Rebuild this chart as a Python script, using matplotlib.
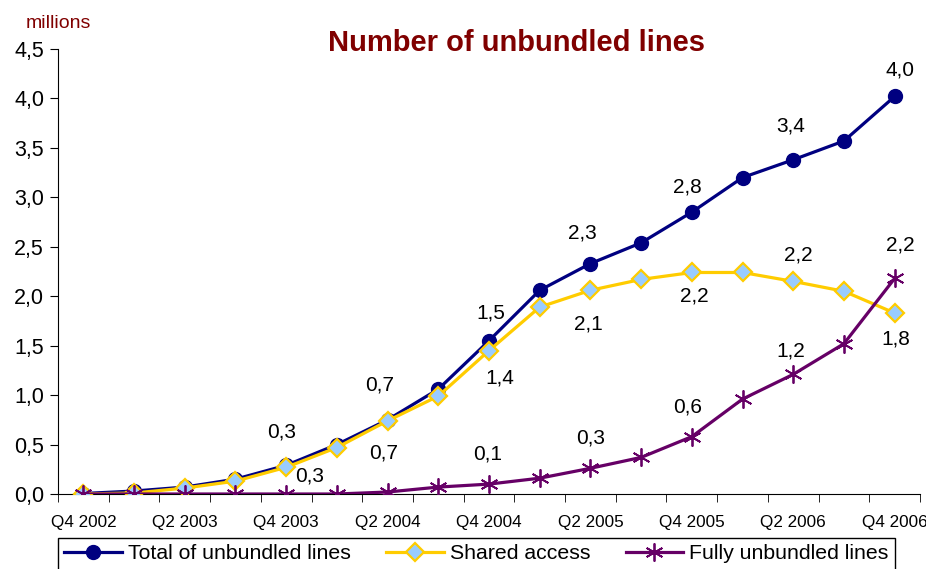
import numpy as np
from matplotlib import pyplot as plt

quarters = ["Q4 2002", "Q1 2003", "Q2 2003", "Q3 2003", "Q4 2003", "Q1 2004",
            "Q2 2004", "Q3 2004", "Q4 2004", "Q1 2005", "Q2 2005", "Q3 2005",
            "Q4 2005", "Q1 2006", "Q2 2006", "Q3 2006", "Q4 2006"]
total = [0.005, 0.03, 0.07, 0.15, 0.29, 0.50, 0.75, 1.06, 1.55, 2.06, 2.33,
         2.54, 2.85, 3.20, 3.38, 3.57, 4.02]
shared = [0.0, 0.01, 0.06, 0.13, 0.27, 0.47, 0.74, 0.99, 1.45, 1.89, 2.06,
          2.17, 2.24, 2.24, 2.15, 2.05, 1.83]
fully = [0.0, 0.0, 0.0, 0.0, 0.0, 0.0, 0.02, 0.07, 0.10, 0.16, 0.26,
         0.37, 0.58, 0.96, 1.21, 1.52, 2.18]

# labelled points: (index, text, dx, dy) offsets in points
total_labels = [(4, "0,3", -3, 24), (6, "0,7", -6, 25), (8, "1,5", 1.5, 20),
                (10, "2,3", -6, 22), (12, "2,8", -3, 18), (14, "3,4", -2, 24),
                (16, "4,0", 4, 19)]
shared_labels = [(4, "0,3", 17, -6), (6, "0,7", -3, -23), (8, "1,4", 8, -20),
                 (10, "2,1", -1.5, -24), (12, "2,2", 2, -17), (14, "2,2", 3.5, 19),
                 (16, "1,8", 0.5, -19)]
fully_labels = [(8, "0,1", -1, 22), (10, "0,3", 0, 22), (12, "0,6", -3, 21),
                (14, "1,2", -2, 17), (16, "2,2", 4, 24)]

plt.rcParams["font.family"] = ["Liberation Sans", "DejaVu Sans"]

navy = "#000080"
gold = "#FFCC00"
purple = "#660066"
darkred = "#800000"

fig = plt.figure(figsize=(9.26, 5.69), dpi=100)
ax = fig.add_axes([58 / 926, 1 - 494 / 569, 862 / 926, 445 / 569])

x = np.arange(len(quarters))
ax.plot(x, total, color=navy, lw=2.3, marker="o", ms=10, mfc=navy, mec=navy,
        label="Total of unbundled lines", zorder=3)
ax.plot(x, shared, color=gold, lw=2.3, marker="D", ms=9, mfc="#99CCFF", mec=gold,
        mew=1.6, label="Shared access", zorder=4)
ax.plot(x, fully, color=purple, lw=2.3, marker=(6, 2, 0), ms=13, mec=purple,
        mew=1.3, label="Fully unbundled lines", zorder=5)

for series, labels in [(total, total_labels), (shared, shared_labels),
                       (fully, fully_labels)]:
    for i, txt, dx, dy in labels:
        ax.annotate(txt, (i, series[i]), xytext=(dx, dy), textcoords="offset points",
                    ha="center", va="center", fontsize=15)

ax.set_xlim(-0.5, len(quarters) - 0.5)
ax.set_ylim(0, 4.5)
ax.set_yticks(np.arange(0, 4.51, 0.5))
ax.set_yticklabels([f"{v:.1f}".replace(".", ",") for v in np.arange(0, 4.51, 0.5)],
                   fontsize=15.5)
ax.set_xticks(x[::2])
ax.set_xticklabels(quarters[::2], fontsize=12.3)
ax.set_xticks(np.arange(-0.5, len(quarters)), minor=True)
ax.tick_params(axis="x", which="major", length=0, pad=15)
ax.tick_params(axis="x", which="minor", length=6, direction="out")
ax.tick_params(axis="y", length=6, direction="out", pad=4)
for s in ["top", "right"]:
    ax.spines[s].set_visible(False)

fig.text(516 / 926, 1 - 43 / 569, "Number of unbundled lines", ha="center",
         va="center", fontsize=21, fontweight="bold", color=darkred)
fig.text(58 / 926, 1 - 23 / 569, "millions", ha="center", va="center",
         fontsize=14, color=darkred)

leg = fig.legend(loc="upper left", bbox_to_anchor=(58 / 926, 0, 837 / 926, 1 - 538 / 569),
                 mode="expand", ncol=3, fontsize=15.3, frameon=True, fancybox=False,
                 edgecolor="black", handlelength=2.7, borderpad=0.3, handletextpad=0.3,
                 borderaxespad=0, framealpha=1)
leg.get_frame().set_linewidth(1.0)

fig.savefig("out.png", dpi=100)
